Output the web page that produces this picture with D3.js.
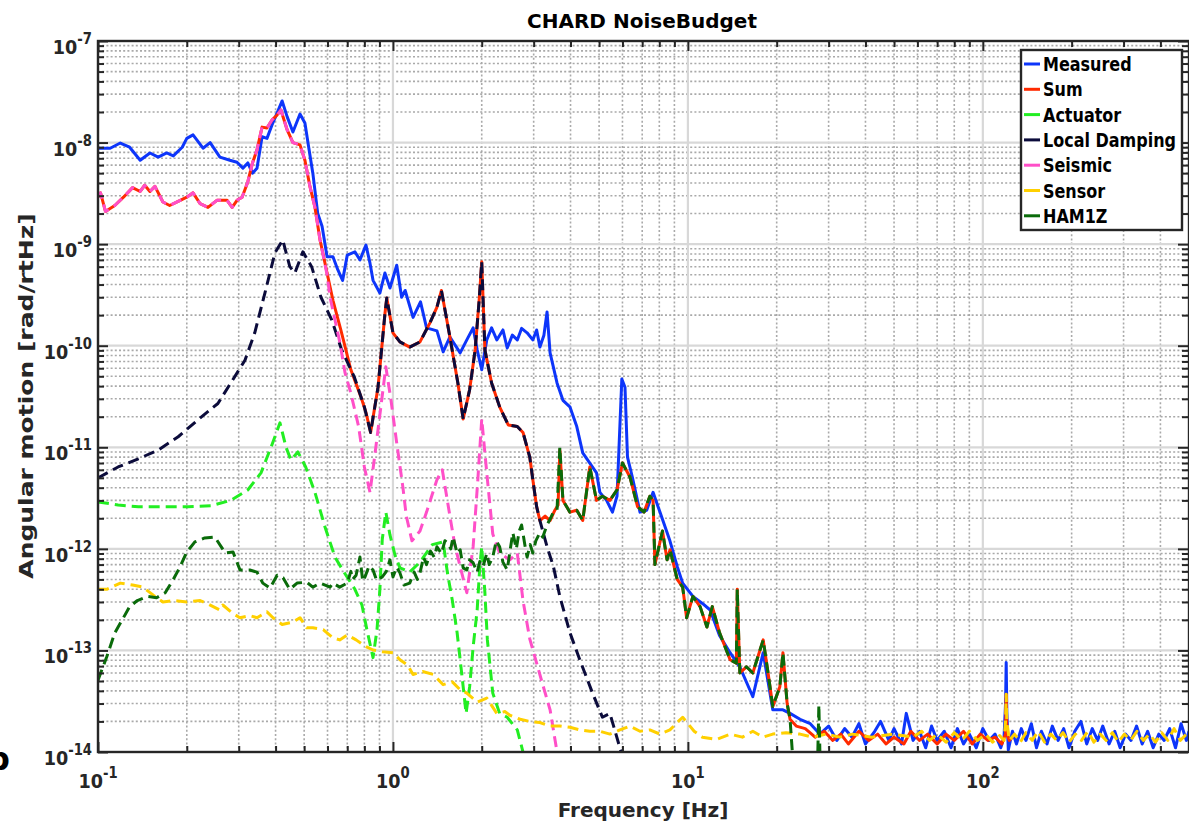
<!DOCTYPE html>
<html>
<head>
<meta charset="utf-8">
<script src="https://cdn.jsdelivr.net/npm/d3@7"></script>
<style>
body { margin: 0; background: #fff; }
svg { display: block; font-family: "DejaVu Sans", sans-serif; font-weight: bold; }
</style>
</head>
<body>
<svg id="chart" width="1189" height="825"></svg>
<script>
// ---- data: [frequency Hz, amplitude rad/rtHz] ----
let xMajorTicks = [0.1, 1, 10, 100];
let xTickExp = ["-1", "0", "1", "2"];
let yMajorTicks = [1e-14, 1e-13, 1e-12, 1e-11, 1e-10, 1e-9, 1e-8, 1e-7];
let yTickExp = ["-14", "-13", "-12", "-11", "-10", "-9", "-8", "-7"];
let seriesNames = ["Measured", "Sum", "Actuator", "Local Damping", "Seismic", "Sensor", "HAM1Z"];

let measured = [[0.100,8.8e-9],[0.110,8.8e-9],[0.119,9.9e-9],[0.128,9.0e-9],[0.139,6.7e-9],[0.150,7.9e-9],[0.160,7.2e-9],[0.171,7.9e-9],[0.180,7.4e-9],[0.193,9.0e-9],[0.200,1.1e-8],[0.210,1.19e-8],[0.227,8.8e-9],[0.240,1.0e-8],[0.259,7.2e-9],[0.280,6.7e-9],[0.296,6.4e-9],[0.310,5.6e-9],[0.322,6.3e-9],[0.334,5.0e-9],[0.346,5.6e-9],[0.360,1.14e-8],[0.374,1.1e-8],[0.389,1.49e-8],[0.405,1.96e-8],[0.421,2.57e-8],[0.438,1.79e-8],[0.458,1.27e-8],[0.484,1.91e-8],[0.503,1.56e-8],[0.515,1.0e-8],[0.535,5.0e-9],[0.556,2.0e-9],[0.575,1.5e-9],[0.598,7.5e-10],[0.626,7.5e-10],[0.650,5.6e-10],[0.675,4.4e-10],[0.700,7.8e-10],[0.743,8.4e-10],[0.773,7.0e-10],[0.810,9.8e-10],[0.836,6.5e-10],[0.856,4.4e-10],[0.903,3.3e-10],[0.939,5.2e-10],[0.977,3.7e-10],[1.03,6.2e-10],[1.07,3.0e-10],[1.10,3.5e-10],[1.17,1.9e-10],[1.24,2.7e-10],[1.30,1.5e-10],[1.41,1.4e-10],[1.48,8.7e-11],[1.56,1.22e-10],[1.69,8.5e-11],[1.78,1.14e-10],[1.87,1.5e-10],[1.93,9.1e-11],[2.0,5.8e-11],[2.08,1.14e-10],[2.16,1.5e-10],[2.25,1.14e-10],[2.36,1.43e-10],[2.44,9.5e-11],[2.54,1.27e-10],[2.64,1.14e-10],[2.73,1.48e-10],[2.85,1.34e-10],[2.98,1.14e-10],[3.07,1.43e-10],[3.15,9.7e-11],[3.25,1.27e-10],[3.33,2.15e-10],[3.41,8.5e-11],[3.60,4.3e-11],[3.77,2.9e-11],[3.98,2.5e-11],[4.20,1.6e-11],[4.40,8.8e-12],[4.65,7.0e-12],[4.90,5.6e-12],[5.03,3.6e-12],[5.30,3.0e-12],[5.55,2.3e-12],[5.75,3.3e-12],[5.97,4.7e-11],[6.12,3.9e-11],[6.24,8.0e-12],[6.48,5.1e-12],[6.88,2.3e-12],[7.25,2.4e-12],[7.62,3.6e-12],[8.04,2.3e-12],[8.69,1.2e-12],[9.2,6.7e-13],[9.6,4.6e-13],[10.4,3.4e-13],[11.2,2.9e-13],[11.9,2.5e-13],[12.8,1.4e-13],[13.9,9.5e-14],[15.0,6.9e-14],[16.6,3.5e-14],[18.0,9.5e-14],[19.4,2.6e-14],[21.0,2.6e-14],[22.2,2.4e-14],[24.0,2.1e-14],[26,1.9e-14],[28,1.5e-14],[30,1.8e-14],[32,1.3e-14],[34,1.7e-14],[36,1.4e-14],[38,1.9e-14],[40,1.2e-14],[43,1.6e-14],[45,2.0e-14],[48,1.3e-14],[50,1.7e-14],[53,1.2e-14],[55,2.4e-14],[58,1.3e-14],[61,1.6e-14],[64,1.1e-14],[67,1.8e-14],[70,1.3e-14],[74,1.6e-14],[78,1.1e-14],[82,1.7e-14],[86,1.2e-14],[90,1.5e-14],[95,1.1e-14],[100,1.7e-14],[105,1.3e-14],[110,1.5e-14],[115,1.1e-14],[118,1.4e-14],[119.4,3.0e-14],[120,7.6e-14],[120.6,2.5e-14],[122,1.05e-14],[126,1.6e-14],[130,1.2e-14],[135,1.7e-14],[140,1.3e-14],[146,1.9e-14],[152,1.1e-14],[158,1.6e-14],[165,1.2e-14],[172,1.8e-14],[180,1.3e-14],[188,1.7e-14],[196,1.1e-14],[205,1.6e-14],[215,2.0e-14],[225,1.2e-14],[235,1.7e-14],[245,1.3e-14],[255,1.8e-14],[268,1.2e-14],[280,1.6e-14],[292,1.1e-14],[305,1.5e-14],[318,1.3e-14],[332,1.8e-14],[347,1.2e-14],[362,1.6e-14],[378,1.1e-14],[395,1.5e-14],[412,1.3e-14],[430,1.7e-14],[450,1.1e-14],[470,1.9e-14],[490,1.3e-14],[500,1.6e-14]];

let sumTotal = [[0.100,2.9e-9],[0.102,3.2e-9],[0.106,2.1e-9],[0.114,2.4e-9],[0.122,2.9e-9],[0.131,3.6e-9],[0.139,3.3e-9],[0.144,3.8e-9],[0.150,3.3e-9],[0.156,3.7e-9],[0.166,2.6e-9],[0.175,2.4e-9],[0.190,2.7e-9],[0.200,2.9e-9],[0.210,3.2e-9],[0.222,2.5e-9],[0.236,2.3e-9],[0.253,2.7e-9],[0.274,2.7e-9],[0.285,2.3e-9],[0.296,2.7e-9],[0.308,2.9e-9],[0.322,4.1e-9],[0.334,6.3e-9],[0.346,8.5e-9],[0.360,1.42e-8],[0.374,1.39e-8],[0.389,1.67e-8],[0.405,1.87e-8],[0.417,2.09e-8],[0.438,1.33e-8],[0.458,1.0e-8],[0.484,9.5e-9],[0.503,6.7e-9],[0.523,3.7e-9],[0.544,2.3e-9],[0.566,1.1e-9],[0.598,5.2e-10],[0.626,2.8e-10],[0.667,1.4e-10],[0.72,5.8e-11],[0.78,3.1e-11],[0.81,2.2e-11],[0.84,1.4e-11],[0.89,3.9e-11],[0.94,2.1e-10],[0.953,2.95e-10],[1.0,1.34e-10],[1.056,1.09e-10],[1.14,9.7e-11],[1.235,1.09e-10],[1.335,1.68e-10],[1.41,2.4e-10],[1.46,3.5e-10],[1.56,1.22e-10],[1.66,4.3e-11],[1.73,1.9e-11],[1.82,3.7e-11],[1.90,9.1e-11],[1.96,2.8e-10],[2.0,6.7e-10],[2.05,9.1e-11],[2.16,4.3e-11],[2.30,2.5e-11],[2.46,1.66e-11],[2.64,1.6e-11],[2.76,1.4e-11],[2.91,8.0e-12],[2.98,4.8e-12],[3.07,2.6e-12],[3.15,1.9e-12],[3.28,2.1e-12],[3.41,1.9e-12],[3.54,2.4e-12],[3.63,2.7e-12],[3.68,9.4e-12],[3.77,3.0e-12],[3.98,2.3e-12],[4.20,2.4e-12],[4.40,1.9e-12],[4.65,6.4e-12],[4.90,3.0e-12],[5.13,3.3e-12],[5.44,3.0e-12],[5.75,3.8e-12],[6.0,7.0e-12],[6.36,5.1e-12],[6.75,2.6e-12],[7.1,2.3e-12],[7.43,3.3e-12],[7.62,3.0e-12],[7.73,7.0e-13],[8.2,1.5e-12],[8.5,7.8e-13],[8.7,9.8e-13],[9.2,5.0e-13],[9.6,4.2e-13],[9.9,2.1e-13],[10.4,3.4e-13],[11.0,2.7e-13],[11.6,1.7e-13],[12.1,2.7e-13],[12.8,1.5e-13],[13.9,8.1e-14],[14.6,7.5e-14],[14.7,4.0e-13],[15.0,6.0e-14],[15.8,6.9e-14],[16.6,6.0e-14],[18.0,1.27e-13],[18.7,6.0e-14],[19.4,2.8e-14],[20.5,4.4e-14],[21.0,9.5e-14],[21.7,3.0e-14],[22.2,2.1e-14],[23.3,1.8e-14],[25,1.7e-14],[27,1.4e-14],[29,1.6e-14],[31,1.3e-14],[33,1.5e-14],[35,1.2e-14],[38,1.6e-14],[41,1.3e-14],[44,1.5e-14],[47,1.2e-14],[50,1.4e-14],[54,1.2e-14],[57,1.6e-14],[61,1.3e-14],[65,1.5e-14],[70,1.2e-14],[75,1.5e-14],[80,1.3e-14],[86,1.6e-14],[92,1.2e-14],[98,1.5e-14],[104,1.3e-14],[110,1.4e-14],[116,1.2e-14],[119.4,1.5e-14],[120,3.7e-14],[120.6,1.5e-14],[123,1.3e-14],[126,1.4e-14]];

let actuator = [[0.100,2.9e-12],[0.117,2.7e-12],[0.137,2.6e-12],[0.169,2.6e-12],[0.202,2.6e-12],[0.241,2.65e-12],[0.282,3.0e-12],[0.322,3.8e-12],[0.357,5.6e-12],[0.386,1.0e-11],[0.414,1.74e-11],[0.434,1.0e-11],[0.451,7.5e-12],[0.476,9.0e-12],[0.506,6.4e-12],[0.544,3.6e-12],[0.588,1.65e-12],[0.636,8.3e-13],[0.675,6.2e-13],[0.743,4.0e-13],[0.785,2.8e-13],[0.816,1.6e-13],[0.856,8.5e-14],[0.883,1.6e-13],[0.903,4.0e-13],[0.92,1.24e-12],[0.946,2.3e-12],[0.977,1.37e-12],[1.016,8.7e-13],[1.056,6.5e-13],[1.14,5.9e-13],[1.235,7.4e-13],[1.36,1.1e-12],[1.48,1.17e-12],[1.53,5.8e-13],[1.59,3.1e-13],[1.65,1.5e-13],[1.69,8.1e-14],[1.73,4.4e-14],[1.77,2.4e-14],[1.82,4.4e-14],[1.87,1.08e-13],[1.93,2.5e-13],[1.97,6.7e-13],[2.0,1.05e-12],[2.05,3.7e-13],[2.09,1.27e-13],[2.18,3.8e-14],[2.30,2.4e-14],[2.44,2.2e-14],[2.64,1.65e-14],[2.76,1.0e-14],[2.85,7e-15]];

let localDamping = [[0.100,5.0e-12],[0.117,6.4e-12],[0.137,7.7e-12],[0.160,9.4e-12],[0.187,1.27e-11],[0.218,1.86e-11],[0.255,2.7e-11],[0.282,4.3e-11],[0.315,7.2e-11],[0.340,1.34e-10],[0.368,3.3e-10],[0.398,8.2e-10],[0.423,1.1e-9],[0.447,6.0e-10],[0.465,5.2e-10],[0.495,8.4e-10],[0.53,6.0e-10],[0.57,3.0e-10],[0.62,1.8e-10],[0.67,9.1e-11],[0.74,4.9e-11],[0.80,2.5e-11],[0.84,1.4e-11],[0.89,3.9e-11],[0.94,2.1e-10],[0.953,2.95e-10],[1.0,1.34e-10],[1.056,1.09e-10],[1.14,9.7e-11],[1.235,1.09e-10],[1.335,1.68e-10],[1.41,2.4e-10],[1.46,3.5e-10],[1.56,1.22e-10],[1.66,4.3e-11],[1.73,1.9e-11],[1.82,3.7e-11],[1.90,9.1e-11],[1.96,2.8e-10],[2.0,6.7e-10],[2.05,9.1e-11],[2.16,4.3e-11],[2.30,2.5e-11],[2.46,1.66e-11],[2.64,1.6e-11],[2.76,1.4e-11],[2.91,8.0e-12],[2.98,4.8e-12],[3.07,2.6e-12],[3.15,1.9e-12],[3.33,1.05e-12],[3.50,6.7e-13],[3.68,3.4e-13],[3.98,1.5e-13],[4.30,8.1e-14],[4.75,3.8e-14],[5.13,2.2e-14],[5.44,2.4e-14],[5.88,1.1e-14],[6.1,7.8e-15]];

let seismic = [[0.100,2.9e-9],[0.102,3.2e-9],[0.106,2.1e-9],[0.114,2.4e-9],[0.122,2.9e-9],[0.131,3.6e-9],[0.139,3.3e-9],[0.144,3.8e-9],[0.150,3.3e-9],[0.156,3.7e-9],[0.166,2.6e-9],[0.175,2.4e-9],[0.190,2.7e-9],[0.200,2.9e-9],[0.210,3.2e-9],[0.222,2.5e-9],[0.236,2.3e-9],[0.253,2.7e-9],[0.274,2.7e-9],[0.285,2.3e-9],[0.296,2.7e-9],[0.308,2.9e-9],[0.322,4.1e-9],[0.334,6.3e-9],[0.346,8.5e-9],[0.360,1.42e-8],[0.374,1.39e-8],[0.389,1.67e-8],[0.405,1.87e-8],[0.417,2.09e-8],[0.438,1.33e-8],[0.458,1.0e-8],[0.484,9.5e-9],[0.503,6.7e-9],[0.523,3.7e-9],[0.544,2.3e-9],[0.566,1.1e-9],[0.598,5.0e-10],[0.612,3.0e-10],[0.661,1.07e-10],[0.688,5.4e-11],[0.72,3.4e-11],[0.765,1.6e-11],[0.80,6.4e-12],[0.836,3.6e-12],[0.87,8.8e-12],[0.91,2.5e-11],[0.946,6.2e-11],[0.985,2.9e-11],[1.03,1.1e-11],[1.08,4.1e-12],[1.11,2.1e-12],[1.16,1.2e-12],[1.235,1.5e-12],[1.30,2.3e-12],[1.41,4.8e-12],[1.47,6.0e-12],[1.56,2.1e-12],[1.62,1.1e-12],[1.69,6.7e-13],[1.78,3.7e-13],[1.87,1.05e-12],[1.94,4.8e-12],[2.0,1.9e-11],[2.08,5.6e-12],[2.18,1.4e-12],[2.30,9.1e-13],[2.49,7.8e-13],[2.64,9.1e-13],[2.76,3.1e-13],[2.91,1.3e-13],[3.2,4.9e-14],[3.41,2.6e-14],[3.6,1.0e-14],[3.7,6e-15]];

let sensor = [[0.100,4.0e-13],[0.107,4.0e-13],[0.119,4.6e-13],[0.131,4.4e-13],[0.142,4.2e-13],[0.154,3.5e-13],[0.166,3.0e-13],[0.180,3.1e-13],[0.200,3.0e-13],[0.222,3.1e-13],[0.234,2.9e-13],[0.259,2.5e-13],[0.265,2.8e-13],[0.287,2.3e-13],[0.303,2.1e-13],[0.327,2.2e-13],[0.346,2.1e-13],[0.374,2.4e-13],[0.392,2.1e-13],[0.421,1.8e-13],[0.458,1.9e-13],[0.484,2.1e-13],[0.51,1.67e-13],[0.535,1.67e-13],[0.58,1.6e-13],[0.626,1.33e-13],[0.66,1.27e-13],[0.70,1.42e-13],[0.75,1.27e-13],[0.81,1.09e-13],[0.856,1.01e-13],[0.92,9.7e-14],[1.0,9.5e-14],[1.056,8.1e-14],[1.12,7.2e-14],[1.17,5.8e-14],[1.26,6.2e-14],[1.37,5.8e-14],[1.48,4.6e-14],[1.59,4.9e-14],[1.69,4.1e-14],[1.78,3.8e-14],[1.93,3.1e-14],[2.08,3.4e-14],[2.25,2.4e-14],[2.40,2.5e-14],[2.49,2.3e-14],[2.70,2.1e-14],[2.91,2.0e-14],[3.15,1.95e-14],[3.41,1.8e-14],[3.68,1.8e-14],[3.98,1.75e-14],[4.30,1.65e-14],[4.65,1.6e-14],[5.03,1.6e-14],[5.44,1.5e-14],[5.88,1.65e-14],[6.36,1.8e-14],[6.88,1.6e-14],[7.43,1.65e-14],[8.04,1.5e-14],[8.69,1.65e-14],[9.2,1.95e-14],[9.6,2.2e-14],[10.5,1.6e-14],[11.2,1.4e-14],[12.5,1.33e-14],[13.9,1.5e-14],[15.3,1.4e-14],[16.6,1.6e-14],[18.0,1.4e-14],[19.4,1.5e-14],[21.5,1.55e-14],[24.0,1.5e-14],[26.4,1.4e-14],[29.4,1.5e-14],[32.7,1.4e-14],[36.1,1.5e-14],[42.0,1.4e-14],[49.5,1.5e-14],[58,1.4e-14],[62,1.6e-14],[66,1.3e-14],[70,1.5e-14],[75,1.25e-14],[80,1.55e-14],[85,1.3e-14],[90,1.6e-14],[96,1.3e-14],[102,1.5e-14],[108,1.25e-14],[114,1.45e-14],[118,1.3e-14],[119.4,2.0e-14],[120,3.7e-14],[120.6,2.0e-14],[123,1.3e-14],[128,1.5e-14],[134,1.25e-14],[140,1.55e-14],[147,1.3e-14],[154,1.6e-14],[162,1.25e-14],[170,1.5e-14],[178,1.3e-14],[187,1.55e-14],[196,1.25e-14],[206,1.5e-14],[216,1.3e-14],[227,1.6e-14],[238,1.25e-14],[250,1.5e-14],[262,1.3e-14],[275,1.55e-14],[288,1.25e-14],[302,1.5e-14],[317,1.3e-14],[333,1.6e-14],[350,1.3e-14],[367,1.5e-14],[385,1.25e-14],[404,1.55e-14],[424,1.3e-14],[445,1.7e-14],[467,1.3e-14],[490,1.5e-14],[500,1.4e-14]];

let ham1z = [[0.100,5.1e-14],[0.107,8.6e-14],[0.114,1.49e-13],[0.122,2.1e-13],[0.128,2.7e-13],[0.136,3.1e-13],[0.147,3.4e-13],[0.158,3.3e-13],[0.169,3.7e-13],[0.180,5.0e-13],[0.190,6.7e-13],[0.200,9.3e-13],[0.213,1.17e-12],[0.230,1.28e-12],[0.249,1.31e-12],[0.270,9.1e-13],[0.287,9.3e-13],[0.303,6.2e-13],[0.327,6.2e-13],[0.346,5.9e-13],[0.362,4.6e-13],[0.383,4.1e-13],[0.405,5.5e-13],[0.424,5.2e-13],[0.447,4.0e-13],[0.473,4.6e-13],[0.51,4.7e-13],[0.535,4.2e-13],[0.566,4.6e-13],[0.612,4.2e-13],[0.626,4.6e-13],[0.66,4.2e-13],[0.70,4.6e-13],[0.72,6.0e-13],[0.73,5.0e-13],[0.75,5.5e-13],[0.773,8.3e-13],[0.79,4.8e-13],[0.804,5.3e-13],[0.83,6.8e-13],[0.856,6.2e-13],[0.88,4.9e-13],[0.92,5.3e-13],[0.95,6.0e-13],[0.977,7.8e-13],[1.0,5.3e-13],[1.03,6.6e-13],[1.056,5.8e-13],[1.09,4.4e-13],[1.14,4.6e-13],[1.18,5.9e-13],[1.21,5.0e-13],[1.235,5.8e-13],[1.27,8.3e-13],[1.30,7.0e-13],[1.34,9.5e-13],[1.38,8.3e-13],[1.41,1.05e-12],[1.46,9.0e-13],[1.50,1.2e-12],[1.53,1.15e-12],[1.57,1.0e-12],[1.60,1.31e-12],[1.65,9.0e-13],[1.69,9.8e-13],[1.73,6.5e-13],[1.78,6.2e-13],[1.82,7.8e-13],[1.87,7.3e-13],[1.93,5.9e-13],[1.97,7.5e-13],[2.02,6.7e-13],[2.08,9.0e-13],[2.12,7.0e-13],[2.18,8.3e-13],[2.24,1.2e-12],[2.30,1.05e-12],[2.36,7.4e-13],[2.44,6.2e-13],[2.50,1.0e-12],[2.55,1.44e-12],[2.62,1.0e-12],[2.68,1.5e-12],[2.73,1.72e-12],[2.80,1.1e-12],[2.85,8.3e-13],[2.92,1.1e-12],[2.98,9.1e-13],[3.05,1.2e-12],[3.15,1.44e-12],[3.22,1.3e-12],[3.33,1.72e-12],[3.42,2.0e-12],[3.50,2.3e-12],[3.6,2.4e-12],[3.68,1.0e-11],[3.77,3.0e-12],[3.98,2.3e-12],[4.20,2.4e-12],[4.40,1.9e-12],[4.65,6.4e-12],[4.90,3.0e-12],[5.13,3.3e-12],[5.44,3.0e-12],[5.75,3.8e-12],[6.0,7.0e-12],[6.36,5.1e-12],[6.75,2.6e-12],[7.1,2.3e-12],[7.43,3.3e-12],[7.62,3.0e-12],[7.73,7.0e-13],[8.2,1.5e-12],[8.5,7.8e-13],[8.7,9.8e-13],[9.2,5.0e-13],[9.6,4.2e-13],[9.9,2.1e-13],[10.4,3.4e-13],[11.0,2.7e-13],[11.6,1.7e-13],[12.1,2.7e-13],[12.8,1.5e-13],[13.9,8.1e-14],[14.6,7.5e-14],[14.7,4.0e-13],[15.0,6.0e-14],[15.8,6.9e-14],[16.6,6.0e-14],[18.0,1.27e-13],[18.7,6.0e-14],[19.4,2.8e-14],[20.5,4.4e-14],[21.0,9.5e-14],[21.7,3.0e-14],[22.2,2.1e-14],[22.6,1.0e-14],[23.0,7e-15],[27.5,7e-15],[27.8,2.9e-14],[28.1,7e-15],[30,6e-15]];

// ---- styles ----
let styles = [
    {data: measured, color: "#0d35fa", dash: null},
    {data: sumTotal, color: "#ff2a00", dash: null},
    {data: actuator, color: "#22ee22", dash: "11,6"},
    {data: localDamping, color: "#0b0b3b", dash: "11,6"},
    {data: seismic, color: "#ff4fc8", dash: "11,6"},
    {data: sensor, color: "#ffd000", dash: "11,6"},
    {data: ham1z, color: "#0a6b0a", dash: "11,6"}
];

let chart = d3.select("#chart");
let mLeft = 98, mTop = 41, mRight = 1189, mBottom = 752;
let axisColor = "#262626";

let x = d3.scaleLog().domain([0.1, 500]).range([mLeft, mRight]);
let y = d3.scaleLog().domain([1e-14, 1e-7]).range([mBottom, mTop]);

let xMinor = [];
xMajorTicks.forEach(function(d) { for (let k = 2; k < 10; k++) if (d * k <= 500) xMinor.push(d * k); });
let yMinor = [];
yMajorTicks.slice(0, -1).forEach(function(d) { for (let k = 2; k < 10; k++) yMinor.push(d * k); });

chart.append("defs").append("clipPath").attr("id", "plotclip")
    .append("rect").attr("x", mLeft).attr("y", mTop).attr("width", mRight - mLeft).attr("height", mBottom - mTop);

//grid: dotted minor, solid major
let grid = chart.append("g");
grid.selectAll(".vminor").data(xMinor).enter().append("line")
    .attr("x1", d => x(d)).attr("x2", d => x(d)).attr("y1", mTop).attr("y2", mBottom)
    .attr("stroke", "#a9a9a9").attr("stroke-width", 1.6).attr("stroke-dasharray", "2,2.2");
grid.selectAll(".hminor").data(yMinor).enter().append("line")
    .attr("y1", d => y(d)).attr("y2", d => y(d)).attr("x1", mLeft).attr("x2", mRight)
    .attr("stroke", "#a9a9a9").attr("stroke-width", 1.6).attr("stroke-dasharray", "2,2.2");
grid.selectAll(".vmajor").data(xMajorTicks).enter().append("line")
    .attr("x1", d => x(d)).attr("x2", d => x(d)).attr("y1", mTop).attr("y2", mBottom)
    .attr("stroke", "#d8d8d8").attr("stroke-width", 2.2);
grid.selectAll(".hmajor").data(yMajorTicks).enter().append("line")
    .attr("y1", d => y(d)).attr("y2", d => y(d)).attr("x1", mLeft).attr("x2", mRight)
    .attr("stroke", "#d8d8d8").attr("stroke-width", 2.2);

//data lines
let line = d3.line().x(d => x(d[0])).y(d => y(d[1]));
let plot = chart.append("g").attr("clip-path", "url(#plotclip)");
styles.forEach(function(s) {
    plot.append("path")
        .datum(s.data)
        .attr("d", line)
        .attr("fill", "none")
        .attr("stroke", s.color)
        .attr("stroke-width", 3)
        .attr("stroke-linejoin", "round")
        .attr("stroke-dasharray", s.dash);
});

//axes with inward ticks on all four sides
function addAxis(gen, tx, ty) {
    chart.append("g")
        .attr("transform", "translate(" + tx + "," + ty + ")")
        .call(gen)
        .call(g => {
            g.select(".domain").remove();
            g.selectAll("line").attr("stroke", axisColor).attr("stroke-width", 2);
        });
}
addAxis(d3.axisBottom(x).tickValues(xMajorTicks).tickSize(-10).tickFormat(""), 0, mBottom);
addAxis(d3.axisBottom(x).tickValues(xMinor).tickSize(-6).tickFormat(""), 0, mBottom);
addAxis(d3.axisTop(x).tickValues(xMajorTicks).tickSize(-10).tickFormat(""), 0, mTop);
addAxis(d3.axisTop(x).tickValues(xMinor).tickSize(-6).tickFormat(""), 0, mTop);
addAxis(d3.axisLeft(y).tickValues(yMajorTicks).tickSize(-10).tickFormat(""), mLeft, 0);
addAxis(d3.axisLeft(y).tickValues(yMinor).tickSize(-6).tickFormat(""), mLeft, 0);
addAxis(d3.axisRight(y).tickValues(yMajorTicks).tickSize(-10).tickFormat(""), mRight - 1, 0);
addAxis(d3.axisRight(y).tickValues(yMinor).tickSize(-6).tickFormat(""), mRight - 1, 0);

chart.append("rect")
    .attr("x", mLeft).attr("y", mTop).attr("width", mRight - mLeft).attr("height", mBottom - mTop)
    .attr("fill", "none").attr("stroke", axisColor).attr("stroke-width", 2.4);

//tick labels 10^n
xMajorTicks.forEach(function(d, i) {
    let t = chart.append("text")
        .attr("transform", "translate(" + x(d) + "," + 788 + ") scale(0.88,1)")
        .attr("text-anchor", "middle")
        .attr("fill", axisColor);
    t.append("tspan").attr("font-size", 20).text("10");
    t.append("tspan").attr("font-size", 15).attr("dy", -10).text(xTickExp[i]);
});
yMajorTicks.forEach(function(d, i) {
    let t = chart.append("text")
        .attr("transform", "translate(92," + (y(d) + 13) + ") scale(0.88,1)")
        .attr("text-anchor", "end")
        .attr("fill", axisColor);
    t.append("tspan").attr("font-size", 20).text("10");
    t.append("tspan").attr("font-size", 15).attr("dy", -10).text(yTickExp[i]);
});

//title and axis labels
chart.append("text")
    .attr("x", 642).attr("y", 28)
    .attr("text-anchor", "middle")
    .attr("font-size", "20px")
    .attr("fill", "#000")
    .text("CHARD NoiseBudget");

chart.append("text")
    .attr("x", 643).attr("y", 817)
    .attr("text-anchor", "middle")
    .attr("font-size", "20px")
    .attr("fill", axisColor)
    .text("Frequency [Hz]");

chart.append("text")
    .attr("transform", "translate(33,396) rotate(-90) scale(1,0.8)")
    .attr("text-anchor", "middle")
    .attr("font-size", "25px")
    .attr("fill", axisColor)
    .text("Angular motion [rad/rtHz]");

//panel letter, partly outside the frame as in the source figure
chart.append("text")
    .attr("x", -13).attr("y", 770)
    .attr("font-size", "32px")
    .attr("fill", "#000")
    .text("b");

//legend
let legend = chart.append("g");
legend.append("rect")
    .attr("x", 1021).attr("y", 50).attr("width", 161).attr("height", 180)
    .attr("fill", "#fff").attr("stroke", axisColor).attr("stroke-width", 2.4);
styles.forEach(function(s, i) {
    let cy = 64 + i * 25.3;
    legend.append("line")
        .attr("x1", 1024).attr("x2", 1040).attr("y1", cy).attr("y2", cy)
        .attr("stroke", s.color).attr("stroke-width", 3);
    legend.append("text")
        .attr("transform", "translate(1043," + (cy + 7) + ") scale(0.8,1)")
        .attr("font-size", "20px")
        .attr("fill", "#000")
        .text(seriesNames[i]);
});
</script>
</body>
</html>
